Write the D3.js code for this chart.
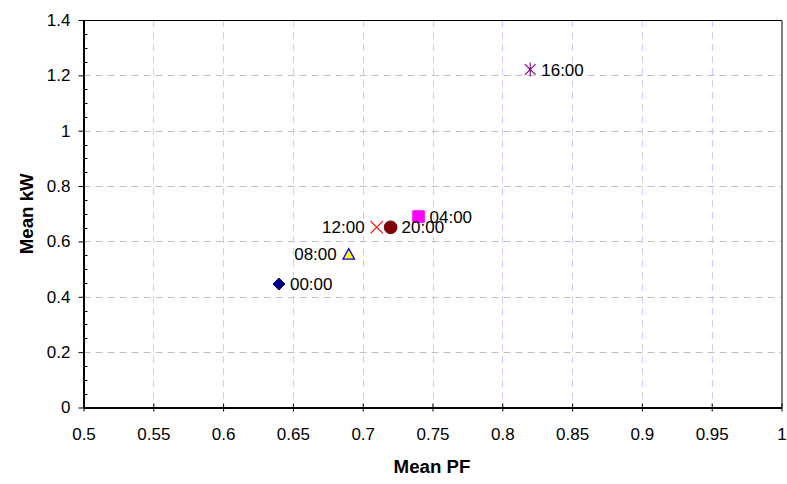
<!DOCTYPE html>
<html>
<head>
<meta charset="utf-8">
<script src="https://cdn.jsdelivr.net/npm/d3@7"></script>
<style>
  html, body { margin: 0; padding: 0; background: #fff; }
  svg { display: block; font-family: "Liberation Sans", Arial, sans-serif; }
</style>
</head>
<body>
<svg id="chart" width="787" height="484"></svg>
<script>
// Mean power factor vs. mean load, one point per 4-hour time slot
const times   = ["00:00", "04:00", "08:00", "12:00", "16:00", "20:00"];
const meanPF  = [0.64, 0.74, 0.69, 0.71, 0.82, 0.72];
const meanKW  = [0.446, 0.69, 0.555, 0.651, 1.221, 0.651];
const labelSide = ["right", "right", "left", "left", "right", "right"];

const xTicks = [0.5, 0.55, 0.6, 0.65, 0.7, 0.75, 0.8, 0.85, 0.9, 0.95, 1];
const yTicks = [0, 0.2, 0.4, 0.6, 0.8, 1, 1.2, 1.4];
const yMinorTicks = d3.range(0, 1.4001, 0.05);

const FONT = "'Liberation Sans', Arial, sans-serif";
const svg = d3.select("#chart");
const plot = { left: 83.5, right: 781.5, top: 20, bottom: 407.5 };

const x = d3.scaleLinear().domain([0.5, 1]).range([plot.left, plot.right]);
const y = d3.scaleLinear().domain([0, 1.4]).range([plot.bottom, plot.top]);

// gridlines
svg.append("g").selectAll("line").data(xTicks.slice(1, -1)).join("line")
  .attr("x1", d => Math.round(x(d)) + 0.5).attr("x2", d => Math.round(x(d)) + 0.5)
  .attr("y1", plot.top).attr("y2", plot.bottom)
  .attr("stroke", "#ccccff").attr("stroke-width", 1).attr("stroke-dasharray", "7,5");

svg.append("g").selectAll("line").data(yTicks.slice(1, -1)).join("line")
  .attr("x1", plot.left).attr("x2", plot.right)
  .attr("y1", d => Math.round(y(d)) + 0.5).attr("y2", d => Math.round(y(d)) + 0.5)
  .attr("stroke", "#c0c0c0").attr("stroke-width", 1).attr("stroke-dasharray", "7,5");

// frame: thin top/right, heavier axis lines
svg.append("path")
  .attr("d", `M${plot.left},${plot.top + 0.5}H${plot.right + 0.5}V${plot.bottom}`)
  .attr("fill", "none").attr("stroke", "#000").attr("stroke-width", 1);

// x axis
const xAxis = d3.axisBottom(x).tickValues(xTicks).tickFormat(d => String(+d.toFixed(2)))
  .tickSize(4).tickSizeOuter(0).tickPadding(16);
const gx = svg.append("g").attr("transform", `translate(0,${plot.bottom})`).call(xAxis);
gx.select(".domain").attr("stroke-width", 2);
gx.selectAll(".tick line").attr("y1", -4).attr("stroke-width", 1);
gx.selectAll(".tick text").attr("font-size", 17).attr("fill", "#000").attr("font-family", FONT);

// y axis
const yAxis = d3.axisLeft(y).tickValues(yTicks).tickFormat(d => String(+d.toFixed(1)))
  .tickSize(5).tickSizeOuter(0).tickPadding(8);
const gy = svg.append("g").attr("transform", `translate(${plot.left},0)`).call(yAxis);
gy.select(".domain").attr("stroke-width", 2);
gy.selectAll(".tick text").attr("font-size", 17).attr("fill", "#000").attr("font-family", FONT);

// minor ticks on the y axis, pointing inward
svg.append("g").selectAll("line")
  .data(yMinorTicks.filter(v => !yTicks.some(t => Math.abs(t - v) < 1e-6)))
  .join("line")
  .attr("x1", plot.left).attr("x2", plot.left + 4)
  .attr("y1", d => Math.round(y(d)) + 0.5).attr("y2", d => Math.round(y(d)) + 0.5)
  .attr("stroke", "#000").attr("stroke-width", 1);

// axis titles
svg.append("text")
  .attr("x", 432).attr("y", 473)
  .attr("text-anchor", "middle").attr("font-size", 18.7).attr("font-weight", "bold")
  .text("Mean PF");
svg.append("text")
  .attr("transform", `translate(33,${(plot.top + plot.bottom) / 2}) rotate(-90)`)
  .attr("text-anchor", "middle").attr("font-size", 18.7).attr("font-weight", "bold")
  .text("Mean kW");

// marker shapes per time slot (all centred on their bounding box)
const diamondSymbol = {
  draw(ctx, size) {
    const r = Math.sqrt(size) / 2;
    ctx.moveTo(0, -r); ctx.lineTo(r, 0); ctx.lineTo(0, r); ctx.lineTo(-r, 0); ctx.closePath();
  }
};
const triangleSymbol = {
  draw(ctx, size) {
    const r = Math.sqrt(size) / 2;
    ctx.moveTo(0, -r); ctx.lineTo(r * 1.1, r); ctx.lineTo(-r * 1.1, r); ctx.closePath();
  }
};
const timesSymbol = {
  draw(ctx, size) {
    const r = Math.sqrt(size) / 2;
    ctx.moveTo(-r, -r); ctx.lineTo(r, r);
    ctx.moveTo(-r, r); ctx.lineTo(r, -r);
  }
};
const starSymbol = {
  draw(ctx, size) {
    const r = Math.sqrt(size) / 2;
    ctx.moveTo(-r, -r); ctx.lineTo(r, r);
    ctx.moveTo(-r, r); ctx.lineTo(r, -r);
    ctx.moveTo(0, -r * 1.3); ctx.lineTo(0, r * 1.3);
  }
};
const markers = [
  { type: diamondSymbol,  size: 144, fill: "#000080", stroke: "#000080", sw: 1 },
  { type: d3.symbolSquare, size: 132, fill: "#ff00ff", stroke: "#ff00ff", sw: 1 },
  { type: triangleSymbol, size: 110, fill: "#ffff00", stroke: "#0000ff", sw: 1.3 },
  { type: timesSymbol,    size: 150, fill: "none",    stroke: "#ff0000", sw: 1.1 },
  { type: starSymbol,     size: 115, fill: "none",    stroke: "#800080", sw: 1.1 },
  { type: d3.symbolCircle, size: 128, fill: "#800000", stroke: "#800000", sw: 1 }
];

const pts = times.map((t, i) => ({ t, pf: meanPF[i], kw: meanKW[i], side: labelSide[i], m: markers[i] }));

svg.append("g").selectAll("path").data(pts).join("path")
  .attr("transform", d => `translate(${x(d.pf)},${y(d.kw)})`)
  .attr("d", d => d3.symbol().type(d.m.type).size(d.m.size)())
  .attr("fill", d => d.m.fill).attr("stroke", d => d.m.stroke).attr("stroke-width", d => d.m.sw);

// point labels
svg.append("g").selectAll("text").data(pts).join("text")
  .attr("x", d => x(d.pf) + (d.side === "right" ? 11 : -12))
  .attr("y", d => y(d.kw) + 6)
  .attr("text-anchor", d => d.side === "right" ? "start" : "end")
  .attr("font-size", 17).attr("fill", "#000")
  .text(d => d.t);
</script>
</body>
</html>
